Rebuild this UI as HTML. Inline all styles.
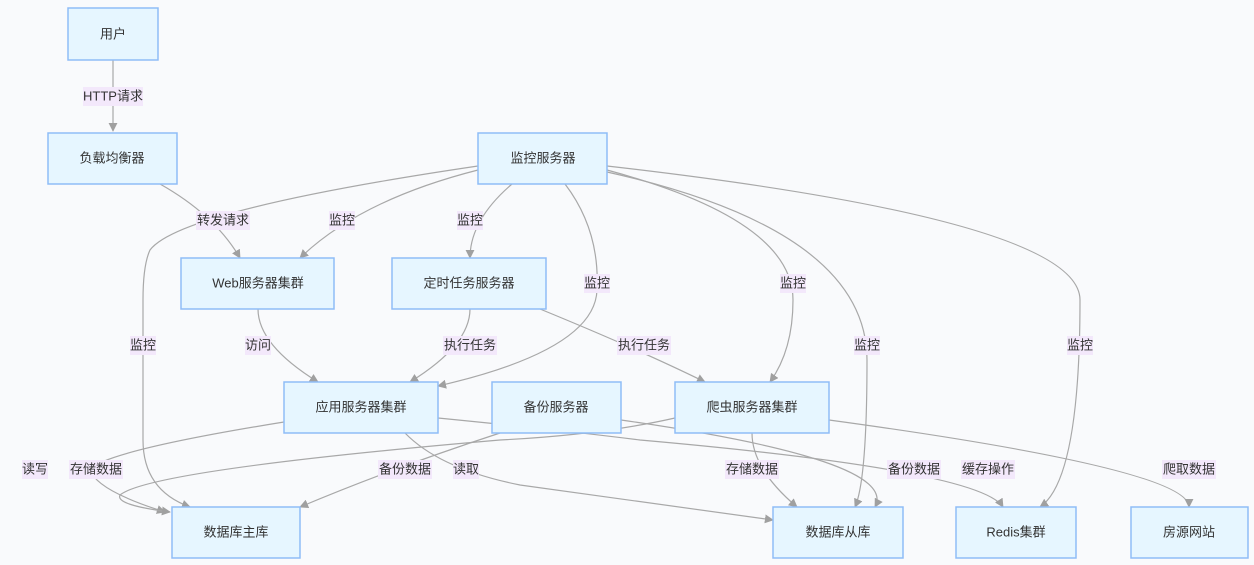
<!DOCTYPE html>
<html><head><meta charset="utf-8"><style>
html,body{margin:0;padding:0;background:#f9fafc;}
svg{display:block;font-family:"Liberation Sans","Noto Sans CJK SC",sans-serif;}
.n{fill:#e6f6ff;stroke:#8fbdf7;stroke-width:1.5}
.e{fill:none;stroke:#a8a8a8;stroke-width:1.2}
.t{font-size:13px;fill:#333;text-anchor:middle;dominant-baseline:central}
.lb{fill:#f3e8fb}
</style></head><body>
<svg width="1254" height="565" viewBox="0 0 1254 565">
<defs><marker id="a" viewBox="0 0 10 10" refX="9" refY="5" markerWidth="9" markerHeight="9" orient="auto-start-reverse" markerUnits="userSpaceOnUse"><path d="M0,0L10,5L0,10z" fill="#a0a0a0"/></marker></defs>
<g class="e" marker-end="url(#a)">
<path d="M113,60 L113,131"/>
<path d="M160,184 Q215,215 240,258"/>
<path d="M478,170 Q360,200 300,258"/>
<path d="M512,184 Q470,220 470,258"/>
<path d="M565,184 Q600,230 597,290 Q595,350 438,386"/>
<path d="M607,170 Q793,220 793,300 Q793,350 770,382"/>
<path d="M607,172 Q867,230 867,360 Q867,480 855,507"/>
<path d="M607,166 Q1080,220 1080,300 Q1080,480 1040,507"/>
<path d="M478,166 Q180,210 150,250 Q143,265 143,300 L143,440 Q143,490 190,507"/>
<path d="M258,309 Q258,345 318,382"/>
<path d="M470,309 Q470,345 410,382"/>
<path d="M540,309 Q640,350 705,382"/>
<path d="M284,422 Q110,450 90,469 Q95,490 165,512"/>
<path d="M500,433 Q390,469 300,507"/>
<path d="M405,433 Q440,469 520,485 L773,520"/>
<path d="M752,433 Q752,469 797,507"/>
<path d="M438,418 Q560,430 640,440 Q980,470 1003,507"/>
<path d="M621,420 Q900,460 875,507"/>
<path d="M829,420 Q1189,469 1189,507"/>
<path d="M675,418 Q600,435 500,440 Q150,470 120,495 Q115,505 170,512"/>
</g>
<g>
<rect class="n" x="68" y="8" width="90" height="52"/><text class="t" x="113" y="34">用户</text>
<rect class="n" x="48" y="133" width="129" height="51"/><text class="t" x="112" y="158">负载均衡器</text>
<rect class="n" x="478" y="133" width="129" height="51"/><text class="t" x="543" y="158">监控服务器</text>
<rect class="n" x="181" y="258" width="153" height="51"/><text class="t" x="258" y="283">Web服务器集群</text>
<rect class="n" x="392" y="258" width="154" height="51"/><text class="t" x="469" y="283">定时任务服务器</text>
<rect class="n" x="284" y="382" width="154" height="51"/><text class="t" x="361" y="407">应用服务器集群</text>
<rect class="n" x="492" y="382" width="129" height="51"/><text class="t" x="556" y="407">备份服务器</text>
<rect class="n" x="675" y="382" width="154" height="51"/><text class="t" x="752" y="407">爬虫服务器集群</text>
<rect class="n" x="172" y="507" width="128" height="51"/><text class="t" x="236" y="532">数据库主库</text>
<rect class="n" x="773" y="507" width="130" height="51"/><text class="t" x="838" y="532">数据库从库</text>
<rect class="n" x="956" y="507" width="120" height="51"/><text class="t" x="1016" y="532">Redis集群</text>
<rect class="n" x="1131" y="507" width="117" height="51"/><text class="t" x="1189" y="532">房源网站</text>
</g>
<g>
<rect class="lb" x="83" y="87" width="60" height="19"/><text class="t" x="113" y="96">HTTP请求</text>
<rect class="lb" x="196" y="211" width="54" height="19"/><text class="t" x="223" y="220">转发请求</text>
<rect class="lb" x="329" y="211" width="26" height="19"/><text class="t" x="342" y="220">监控</text>
<rect class="lb" x="457" y="211" width="26" height="19"/><text class="t" x="470" y="220">监控</text>
<rect class="lb" x="584" y="274" width="26" height="19"/><text class="t" x="597" y="283">监控</text>
<rect class="lb" x="780" y="274" width="26" height="19"/><text class="t" x="793" y="283">监控</text>
<rect class="lb" x="130" y="336" width="26" height="19"/><text class="t" x="143" y="345">监控</text>
<rect class="lb" x="854" y="336" width="26" height="19"/><text class="t" x="867" y="345">监控</text>
<rect class="lb" x="1067" y="336" width="26" height="19"/><text class="t" x="1080" y="345">监控</text>
<rect class="lb" x="245" y="336" width="26" height="19"/><text class="t" x="258" y="345">访问</text>
<rect class="lb" x="443" y="336" width="54" height="19"/><text class="t" x="470" y="345">执行任务</text>
<rect class="lb" x="617" y="336" width="54" height="19"/><text class="t" x="644" y="345">执行任务</text>
<rect class="lb" x="22" y="460" width="26" height="19"/><text class="t" x="35" y="469">读写</text>
<rect class="lb" x="69" y="460" width="54" height="19"/><text class="t" x="96" y="469">存储数据</text>
<rect class="lb" x="378" y="460" width="54" height="19"/><text class="t" x="405" y="469">备份数据</text>
<rect class="lb" x="453" y="460" width="26" height="19"/><text class="t" x="466" y="469">读取</text>
<rect class="lb" x="725" y="460" width="54" height="19"/><text class="t" x="752" y="469">存储数据</text>
<rect class="lb" x="887" y="460" width="54" height="19"/><text class="t" x="914" y="469">备份数据</text>
<rect class="lb" x="961" y="460" width="54" height="19"/><text class="t" x="988" y="469">缓存操作</text>
<rect class="lb" x="1162" y="460" width="54" height="19"/><text class="t" x="1189" y="469">爬取数据</text>
</g>
</svg>
</body></html>
